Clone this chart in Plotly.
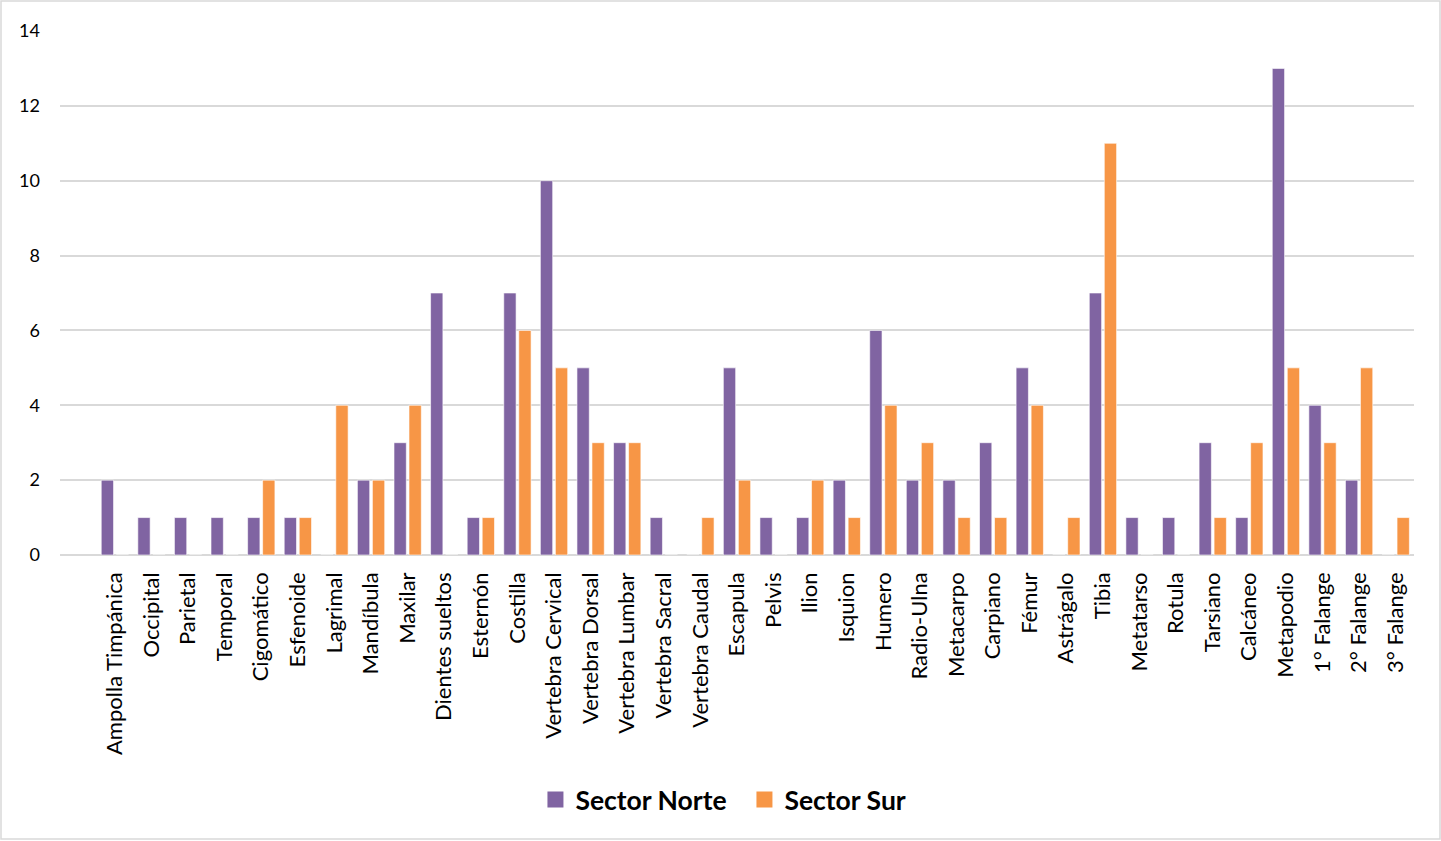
import plotly.graph_objects as go

categories = ["Ampolla Timpánica", "Occipital", "Parietal", "Temporal", "Cigomático",
              "Esfenoide", "Lagrimal", "Mandíbula", "Maxilar", "Dientes sueltos",
              "Esternón", "Costilla", "Vertebra Cervical", "Vertebra Dorsal",
              "Vertebra Lumbar", "Vertebra Sacral", "Vertebra Caudal", "Escapula",
              "Pelvis", "Ilion", "Isquion", "Humero", "Radio-Ulna", "Metacarpo",
              "Carpiano", "Fémur", "Astrágalo", "Tibia", "Metatarso", "Rotula",
              "Tarsiano", "Calcáneo", "Metapodio", "1° Falange", "2° Falange", "3° Falange"]
sector_norte = [2, 1, 1, 1, 1, 1, 0, 2, 3, 7, 1, 7, 10, 5, 3, 1, 0, 5, 1, 1, 2, 6, 2, 2,
                3, 5, 0, 7, 1, 1, 3, 1, 13, 4, 2, 0]
sector_sur = [0, 0, 0, 0, 2, 1, 4, 2, 4, 0, 1, 6, 5, 3, 3, 0, 1, 2, 0, 2, 1, 4, 3, 1,
              1, 4, 1, 11, 0, 0, 1, 3, 5, 3, 5, 1]
y_ticks = [0, 2, 4, 6, 8, 10, 12, 14]
series_names = ["Sector Norte", "Sector Sur"]
series_colors = ["#8064A2", "#F79646"]

FONT = "Lato"
fig = go.Figure()
for name, vals, col in zip(series_names, [sector_norte, sector_sur], series_colors):
    fig.add_trace(go.Bar(x=categories, y=vals, name=name, showlegend=False,
                         marker=dict(color=col, line=dict(color="#FFFFFF", width=0.6))))
# legend entries with larger square swatches
for name, col in zip(series_names, series_colors):
    fig.add_trace(go.Scatter(x=[None], y=[None], mode="markers", name=name,
                             marker=dict(symbol="square", size=17, color=col)))

fig.update_layout(
    width=1441, height=841,
    margin=dict(l=60, r=27, t=31, b=286),
    paper_bgcolor="white", plot_bgcolor="white",
    barmode="group", bargap=0.18, bargroupgap=0.18,
    font=dict(family=FONT, color="#000000"),
    showlegend=True,
    legend=dict(orientation="h", x=0.5055, xanchor="center", y=-0.467, yanchor="middle",
                font=dict(family=FONT, size=26.5, color="#000000", weight="bold"),
                itemsizing="trace", traceorder="normal", itemwidth=30,
                entrywidth=164, entrywidthmode="pixels",
                bgcolor="rgba(0,0,0,0)"),
)
fig.update_xaxes(type="category", range=[-1.5, 35.5], tickangle=-90,
                 tickfont=dict(family=FONT, size=22, color="#000000"),
                 showgrid=False, showline=False, ticks="", ticklabelstandoff=12,
                 fixedrange=True)
fig.update_yaxes(range=[0, 14], tickvals=y_ticks, showgrid=True, gridcolor="#D9D9D9",
                 gridwidth=1.5, zeroline=True, zerolinecolor="#D9D9D9", zerolinewidth=1.5,
                 tickfont=dict(family=FONT, size=18, color="#000000"), ticks="",
                 ticklabelstandoff=19, showline=False)

# outer chart border
fig.add_shape(type="rect", xref="paper", yref="paper",
              x0=-59/1354, x1=1+26/1354, y0=-284/524, y1=1+30/524,
              line=dict(color="#D9D9D9", width=1.5), fillcolor="rgba(0,0,0,0)", layer="below")

fig.write_html("out.html", config={"displayModeBar": False},
               post_script="document.body.style.margin='0';")
